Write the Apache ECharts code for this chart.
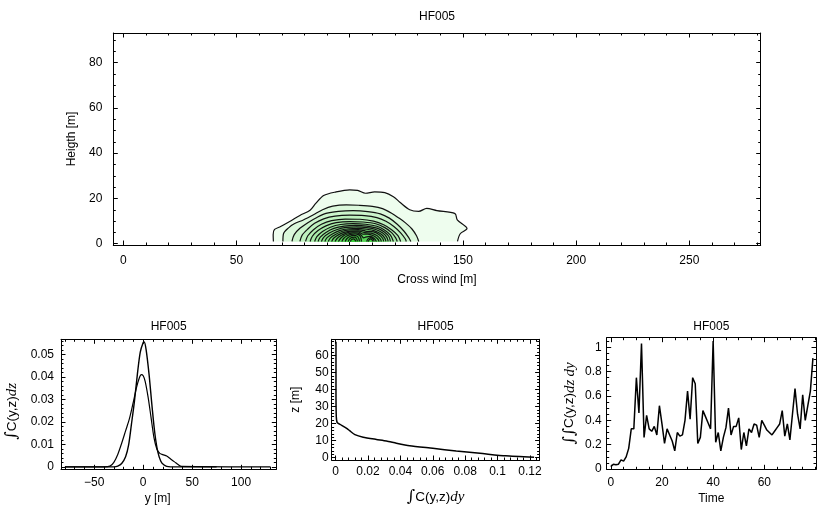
<!DOCTYPE html>
<html>
<head>
<meta charset="utf-8">
<title>HF005</title>
<script src="https://cdn.jsdelivr.net/npm/echarts@6.0.0/dist/echarts.min.js"></script>
<style>
  html, body { margin: 0; padding: 0; background: #ffffff; }
  #chart { width: 817px; height: 506px; }
</style>
</head>
<body>
<div id="chart"></div>
<script>
// Plume HF005: concentration contours in the cross-wind plane plus three integrated profiles.

const runName = 'HF005';

// ---- Cross-wind plane: contour lines, outermost level first ----
// Each line is a list of [cross wind (m), height (m)] points that starts and ends on the lowest grid row.
const fieldBottom = 1;
const contour01 = [[66.3,1],[66.2,4],[66.8,6.3],[69.5,7.6],[73.5,9.8],[78,12.5],[82.5,14.8],[85,17.8],[88.5,21.3],[94,22.9],[100,23.8],[103.5,23.6],[107,22.3],[111,22.9],[115.5,22.6],[119.3,20.8],[122.3,18.2],[126.5,15],[130.5,14.3],[134,15.6],[138.5,14.6],[146.5,13.3],[147.5,10.5],[151.8,6.7],[148.8,4.4],[147.6,1]];
const contour02 = [[70.5,1],[70.8,4.5],[73,7],[75.5,8.8],[79.5,10.5],[84,12.8],[88,15],[92.5,16.6],[98.5,17.2],[104,17],[110,16.5],[114.5,15.5],[118.5,13.5],[121.5,11.5],[124.5,9.3],[127.5,6.5],[129.5,3.5],[130.5,1]];
const contour03 = [[74.5,1],[75.5,4],[78,6.8],[81.5,9.3],[85.5,11.6],[89.5,13.4],[95,14.3],[101.5,14.6],[108,14.2],[113.5,13.2],[117.5,11.3],[121,8.6],[124,5.5],[126,2.8],[127,1]];
const contour04 = [[78,1],[79,3.8],[81.5,6.5],[84.5,9],[88.5,11],[93.5,12.2],[100,12.6],[106.5,12.4],[112,11.5],[116,9.9],[119.5,7.6],[122.5,4.8],[124.5,2.2],[125,1]];
const contour05 = [[80.5,1],[81.5,3.5],[84,6.2],[87.5,8.6],[92,10.2],[98,10.9],[104.5,10.8],[110.5,10],[115,8.4],[118.5,6.2],[121.3,3.6],[122.5,1]];
const contour06 = [[82.5,1],[83.5,3.3],[86,5.8],[89.5,7.9],[94,9.3],[100,9.8],[106,9.6],[111.5,8.8],[115.5,7.1],[118.5,4.9],[120.3,2.6],[121,1]];
const contour07 = [[84.5,1],[85.5,3.1],[88,5.4],[91.5,7.3],[96,8.5],[101.5,8.9],[107,8.6],[112,7.7],[115.5,6],[118,3.8],[119.3,1]];
const contour08 = [[86,1],[87,2.9],[89.5,5],[93,6.8],[97.5,7.8],[102.5,8.1],[107.5,7.8],[112,6.9],[115.3,5.2],[117.3,3.2],[118,1]];
const contour09 = [[87.5,1],[88.5,2.8],[91,4.7],[94.5,6.3],[98.5,7.2],[103,7.4],[107.5,7.1],[111.5,6.3],[114.6,4.7],[116.4,2.8],[117,1]];
const contour10 = [[89,1],[90,2.7],[92.5,4.4],[95.5,5.8],[99.5,6.6],[103.5,6.8],[107.5,6.4],[111,5.7],[113.8,4.3],[115.5,2.5],[116,1]];
const contour11 = [[90.5,1],[91.5,2.6],[93.7,4.1],[96.5,5.4],[100,6.1],[103.8,6.2],[107,5.6],[110.5,5.2],[113,4],[114.6,2.3],[115,1]];
const contour12 = [[92,1],[93,2.5],[95,3.9],[97.5,5],[100.5,5.6],[103.8,5.7],[106.5,4.9],[109.5,4.7],[112,3.6],[113.5,2.1],[114,1]];
const contour13 = [[93.5,1],[94.5,2.4],[96.3,3.7],[98.5,4.7],[101,5.2],[103.8,5.2],[105.8,4.2],[108,4.2],[110.5,3.5],[112.3,2.2],[113,1]];
const contour14 = [[95,1],[96,2.4],[97.5,3.6],[99.5,4.4],[101.5,4.8],[103.7,4.7],[105.2,3.6],[106.2,2.6],[107,2.9],[109,3.2],[110.9,2.3],[111.8,1]];
const contour15a = [[96.5,1],[97.3,2.3],[98.7,3.4],[100.5,4.1],[102.3,4.3],[103.8,4],[104.8,3],[105.2,1]];
const contour15b = [[107.5,1],[108,2],[109.2,2.7],[110.3,2.2],[110.8,1]];
const contour16a = [[98,1],[98.7,2.2],[100,3.2],[101.7,3.7],[103.2,3.4],[104,2.4],[104.3,1]];
const contour16b = [[108.2,1],[108.7,1.8],[109.3,2.1],[109.9,1.7],[110.1,1]];
const contour17 = [[99.3,1],[99.9,2],[101,2.8],[102.3,2.9],[103.1,2.1],[103.4,1]];
const contour18 = [[100.3,1],[100.8,1.8],[101.7,2.1],[102.4,1.6],[102.6,1]];
const contourLevels = [
  [contour01], [contour02], [contour03], [contour04], [contour05], [contour06],
  [contour07], [contour08], [contour09], [contour10], [contour11], [contour12],
  [contour13], [contour14], [contour15a, contour15b], [contour16a, contour16b],
  [contour17], [contour18]
];
const crossWindTicks = [0, 50, 100, 150, 200, 250];
const heightTicks = [0, 20, 40, 60, 80];

// ---- Vertically integrated concentration across the plume, two samples ----
const lateralPosA = [-80,-30,-26,-22,-18,-15,-12,-9,-6,-3,0,1,3,6,9,12,15,18,21,24,28,75];
const lateralConcA = [0,0,0.0003,0.0015,0.0045,0.0095,0.019,0.029,0.041,0.051,0.0553,0.0555,0.052,0.041,0.027,0.0145,0.0065,0.0025,0.0009,0.0002,0,0];
const lateralPosB = [-80,-40,-34,-30,-26,-22,-18,-14,-10,-7,-4,-2,0,2,5,8,11,14,17,20,24,28,32,36,39,130];
const lateralConcB = [0,0,0.0003,0.002,0.0055,0.0105,0.016,0.0215,0.029,0.035,0.0395,0.041,0.0405,0.038,0.031,0.022,0.013,0.0078,0.006,0.0054,0.0048,0.0035,0.0022,0.0009,0.0002,0];
const lateralTicks = [-50, 0, 50, 100];
const lateralValueTicks = [0, 0.01, 0.02, 0.03, 0.04, 0.05];

// ---- Laterally integrated concentration against height ----
const verticalConc = [0.0002,0.0002,0.0004,0.001,0.0037,0.0068,0.0088,0.0119,0.017,0.0252,0.0314,0.0375,0.0457,0.06,0.0745,0.0908,0.105,0.1226];
const verticalHeight = [68,40,24,20.5,19,17.2,15.7,13.5,12,10.7,9.8,8.5,7,5.5,3.9,2.4,1.1,0.3];
const verticalValueTicks = [0, 0.02, 0.04, 0.06, 0.08, 0.1, 0.12];
const verticalHeightTicks = [0, 10, 20, 30, 40, 50, 60];

// ---- Total (doubly integrated) concentration per time step ----
const totalConc = [
  0.02, 0.04, 0.035, 0.04, 0.075, 0.065, 0.10, 0.17, 0.33, 0.33,
  0.75, 0.46, 1.03, 0.26, 0.44, 0.33, 0.31, 0.35, 0.28, 0.52,
  0.37, 0.21, 0.33, 0.28, 0.23, 0.15, 0.30, 0.27, 0.28, 0.40,
  0.64, 0.41, 0.75, 0.70, 0.21, 0.26, 0.48, 0.43, 0.38, 0.33,
  1.05, 0.22, 0.30, 0.15, 0.26, 0.34, 0.50, 0.28, 0.35, 0.35,
  0.42, 0.16, 0.30, 0.19, 0.33, 0.30, 0.37, 0.36, 0.26, 0.40,
  0.36, 0.32, 0.30, 0.28, 0.31, 0.34, 0.37, 0.48, 0.27, 0.37,
  0.24, 0.45, 0.66, 0.45, 0.33, 0.61, 0.40, 0.52, 0.64, 0.91
];
const timeTicks = [0, 20, 40, 60];
const totalTicks = [0, 0.2, 0.4, 0.6, 0.8, 1];

// ---- styling helpers ----
const FONT = '"Liberation Sans", Arial, Helvetica, sans-serif';
const INK = '#000000';

function tickText(v) {
  return String(v).replace('-', '\u2212');
}

// Minor tick positions between the labelled ones.
function ticksEvery(min, max, step) {
  const out = [];
  const start = Math.ceil(min / step - 1e-9);
  const end = Math.floor(max / step + 1e-9);
  for (let k = start; k <= end; k++) out.push(+(k * step).toFixed(6));
  return out;
}

const nameRich = {
  int: { fontFamily: '"DejaVu Serif", "Liberation Serif", serif', fontSize: 16, color: INK },
  t: { fontFamily: FONT, fontSize: 13.5, color: INK },
  d: { fontFamily: '"Liberation Serif", serif', fontStyle: 'italic', fontSize: 15, color: INK }
};

// A framed box: labelled axis on bottom/left, mirrored ticks on top/right, minor ticks on all sides.
function frameAxes(g, dim, spec) {
  const sides = dim === 'x' ? ['bottom', 'top'] : ['left', 'right'];
  const minor = ticksEvery(spec.min, spec.max, spec.minorStep);
  const axes = [];
  sides.forEach(function (side, s) {
    axes.push({
      type: 'value', gridIndex: g, position: side, min: spec.min, max: spec.max,
      axisLine: { show: true, onZero: false, lineStyle: { color: INK, width: 1 } },
      axisTick: { show: true, inside: true, length: 4.5, customValues: spec.major, lineStyle: { color: INK, width: 1 } },
      axisLabel: s === 0
        ? { show: true, customValues: spec.major, margin: spec.margin, color: INK, fontSize: 12, fontFamily: FONT, formatter: tickText }
        : { show: false },
      splitLine: { show: false },
      name: s === 0 ? spec.name : '',
      nameLocation: 'middle',
      nameGap: spec.nameGap,
      nameTextStyle: Object.assign({ fontFamily: FONT, fontSize: 12, color: INK, rich: nameRich }, spec.nameStyle || {})
    });
    axes.push({
      type: 'value', gridIndex: g, position: side, min: spec.min, max: spec.max,
      axisLine: { show: false, onZero: false },
      axisTick: { show: true, inside: true, length: 2.5, customValues: minor, lineStyle: { color: INK, width: 1 } },
      axisLabel: { show: false },
      splitLine: { show: false }
    });
  });
  return axes;
}

const grids = [
  { left: 113.3, top: 33, width: 647.4, height: 212 },
  { left: 61, top: 339.3, width: 215.3, height: 130 },
  { left: 331.6, top: 339.3, width: 208, height: 127.4 },
  { left: 606.7, top: 337.7, width: 209.3, height: 131.6 }
];

const xAxes = [].concat(
  frameAxes(0, 'x', { min: -4.4, max: 281.5, major: crossWindTicks, minorStep: 10, margin: 10, name: 'Cross wind [m]', nameGap: 29 }),
  frameAxes(1, 'x', { min: -84, max: 136, major: lateralTicks, minorStep: 10, margin: 7, name: 'y [m]', nameGap: 23, nameStyle: { padding: [0, 22, 0, 0] } }),
  frameAxes(2, 'x', { min: -0.0025, max: 0.126, major: verticalValueTicks, minorStep: 0.004, margin: 6, name: '{int|\u222B}{t|C(y,z)}{d|dy}', nameGap: 29 }),
  frameAxes(3, 'x', { min: -1.6, max: 80.2, major: timeTicks, minorStep: 5, margin: 7, name: 'Time', nameGap: 23 })
);
const yAxes = [].concat(
  frameAxes(0, 'y', { min: -0.57, max: 93.1, major: heightTicks, minorStep: 5, margin: 11, name: 'Heigth [m]', nameGap: 34 }),
  frameAxes(1, 'y', { min: -0.0011, max: 0.0567, major: lateralValueTicks, minorStep: 0.002, margin: 7, name: '{int|\u222B}{t|C(y,z)}{d|dz}', nameGap: 41, nameStyle: { padding: [0, 14, 0, 0] } }),
  frameAxes(2, 'y', { min: -1.36, max: 69.4, major: verticalHeightTicks, minorStep: 2, margin: 3, name: 'z [m]', nameGap: 30 }),
  frameAxes(3, 'y', { min: -0.002, max: 1.078, major: totalTicks, minorStep: 0.05, margin: 5, name: '{int|\u222B\u222B}{t|C(y,z)}{d|dz\u2009dy}', nameGap: 29 })
);

// Fill colours: white-green for the lowest level, saturating towards the plume core.
function levelFill(i, n) {
  const t = Math.pow(i / (n - 1), 0.8);
  const r = Math.round(238 - t * 188);
  const gch = Math.round(253 - t * 49);
  return 'rgb(' + r + ',' + gch + ',' + r + ')';
}

const series = [];
contourLevels.forEach(function (lines, i) {
  const fill = levelFill(i, contourLevels.length);
  lines.forEach(function (pts) {
    series.push({
      type: 'line', xAxisIndex: 0, yAxisIndex: 0, data: pts,
      symbol: 'none', smooth: 0.3, silent: true,
      lineStyle: { color: '#111111', width: 1.2 },
      areaStyle: { color: fill, opacity: 1, origin: fieldBottom }
    });
  });
});

series.push({
  type: 'line', xAxisIndex: 4, yAxisIndex: 4, symbol: 'none', smooth: 0.3, silent: true,
  data: lateralPosA.map(function (y, i) { return [y, lateralConcA[i]]; }),
  lineStyle: { color: INK, width: 1.4 }
});
series.push({
  type: 'line', xAxisIndex: 4, yAxisIndex: 4, symbol: 'none', smooth: 0.3, silent: true,
  data: lateralPosB.map(function (y, i) { return [y, lateralConcB[i]]; }),
  lineStyle: { color: INK, width: 1.2 }
});
series.push({
  type: 'line', xAxisIndex: 8, yAxisIndex: 8, symbol: 'none', smooth: 0.2, silent: true,
  data: verticalConc.map(function (c, i) { return [c, verticalHeight[i]]; }),
  lineStyle: { color: INK, width: 1.5 }
});
series.push({
  type: 'line', xAxisIndex: 12, yAxisIndex: 12, symbol: 'none', silent: true,
  data: totalConc.map(function (v, t) { return [t, v]; }),
  lineStyle: { color: INK, width: 1.5 }
});

// Panel titles, centred over each plot box.
const titles = grids.map(function (g, i) {
  const y = i === 0 ? 16.7 : 327;
  return {
    type: 'text', x: g.left + g.width / 2, y: y,
    style: { text: runName, fill: INK, font: '12px ' + FONT, textAlign: 'center', textVerticalAlign: 'middle' }
  };
});

const chart = echarts.init(document.getElementById('chart'), null, { renderer: 'canvas' });
chart.setOption({
  animation: false,
  backgroundColor: '#ffffff',
  textStyle: { fontFamily: FONT },
  grid: grids,
  xAxis: xAxes,
  yAxis: yAxes,
  series: series,
  graphic: titles
});
</script>
</body>
</html>
